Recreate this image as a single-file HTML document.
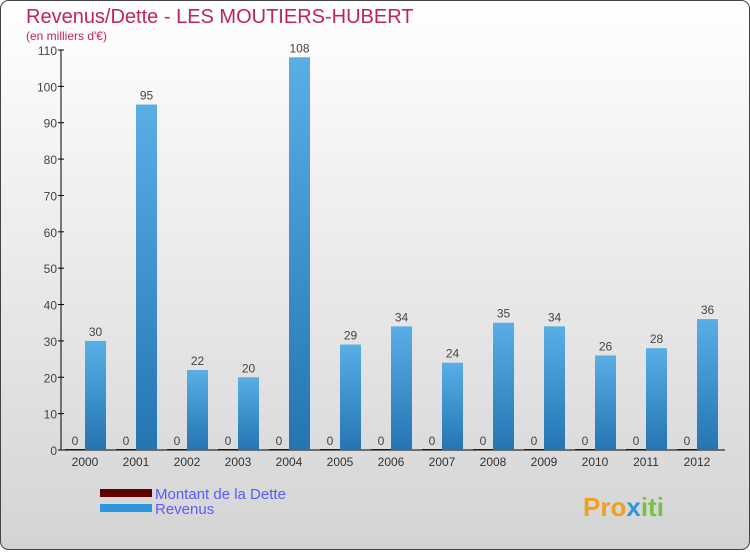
<!DOCTYPE html>
<html><head><meta charset="utf-8"><style>
body{margin:0;width:750px;height:550px;overflow:hidden;font-family:"Liberation Sans",sans-serif}
</style></head><body>
<svg width="750" height="550" xmlns="http://www.w3.org/2000/svg">
<defs>
<linearGradient id="bg" x1="0" y1="0" x2="0" y2="1"><stop offset="0" stop-color="#ffffff"/><stop offset="1" stop-color="#d4d4d4"/></linearGradient>
<linearGradient id="bar" x1="0" y1="0" x2="0" y2="1"><stop offset="0" stop-color="#5aaee6"/><stop offset="1" stop-color="#2475b2"/></linearGradient>
</defs>
<rect x="0.5" y="0.5" width="749" height="549" rx="8" fill="url(#bg)" stroke="#444"/>
<text x="26" y="23" font-size="20" fill="#c0245c">Revenus/Dette - LES MOUTIERS-HUBERT</text>
<text x="26" y="40" font-size="12" fill="#c0245c">(en milliers d'€)</text>
<g id="plot"></g>
<g>
<rect x="100" y="489" width="52" height="8" fill="#600000"/>
<text x="155" y="499" font-size="15" fill="#5a5aff">Montant de la Dette</text>
<rect x="100" y="504" width="52" height="8" fill="#2e96dc"/>
<text x="155" y="514" font-size="15" fill="#5a5aff">Revenus</text>
</g>
<text x="583" y="516" font-size="26" font-weight="bold" fill="#f0a020">Pro<tspan fill="#2e96dc">x</tspan><tspan fill="#7ac143">iti</tspan></text>
</svg>
<script>
const years=["2000","2001","2002","2003","2004","2005","2006","2007","2008","2009","2010","2011","2012"];
const dette=[0,0,0,0,0,0,0,0,0,0,0,0,0];
const revenus=[30,95,22,20,108,29,34,24,35,34,26,28,36];
const yTicks=[0,10,20,30,40,50,60,70,80,90,100,110];
const ns="http://www.w3.org/2000/svg";
const g=document.getElementById('plot');
const y=v=>450-v*400/110;
const x=i=>85+i*51;
function mk(t,a,p){const e=document.createElementNS(ns,t);for(const k in a)e.setAttribute(k,a[k]);(p||g).appendChild(e);return e;}
const ax=mk('line',{x1:61,y1:50,x2:61,y2:450,stroke:'#000'});


const bx=mk('line',{x1:61,y1:450,x2:725,y2:450,stroke:'#000'});


yTicks.forEach(v=>{
 const l=mk('line',{x1:58,y1:y(v),x2:64,y2:y(v),stroke:'#000'});
 
 
 const t=mk('text',{x:57,y:y(v)+5,'font-size':12,fill:'#444','text-anchor':'end'});t.textContent=v;
 
 
});
years.forEach((yr,i)=>{
 const cx=x(i);
 const t=mk('text',{x:cx,y:466,'font-size':12,fill:'#333','text-anchor':'middle'});t.textContent=yr;
 
 
 const d=mk('rect',{x:cx-20,y:y(dette[i])-1,width:20,height:Math.max(1,450-y(dette[i])),fill:'#600000'});
 
 
 const dl=mk('text',{x:cx-10,y:y(dette[i])-5,'font-size':12,fill:'#444','text-anchor':'middle'});dl.textContent=dette[i];
 
 
 const r=mk('rect',{x:cx,y:y(revenus[i]),width:21,height:450-y(revenus[i]),fill:'url(#bar)'});
 
 
 const rl=mk('text',{x:cx+10.5,y:y(revenus[i])-5,'font-size':12,fill:'#444','text-anchor':'middle'});rl.textContent=revenus[i];
 
 
});
</script>
</body></html>
